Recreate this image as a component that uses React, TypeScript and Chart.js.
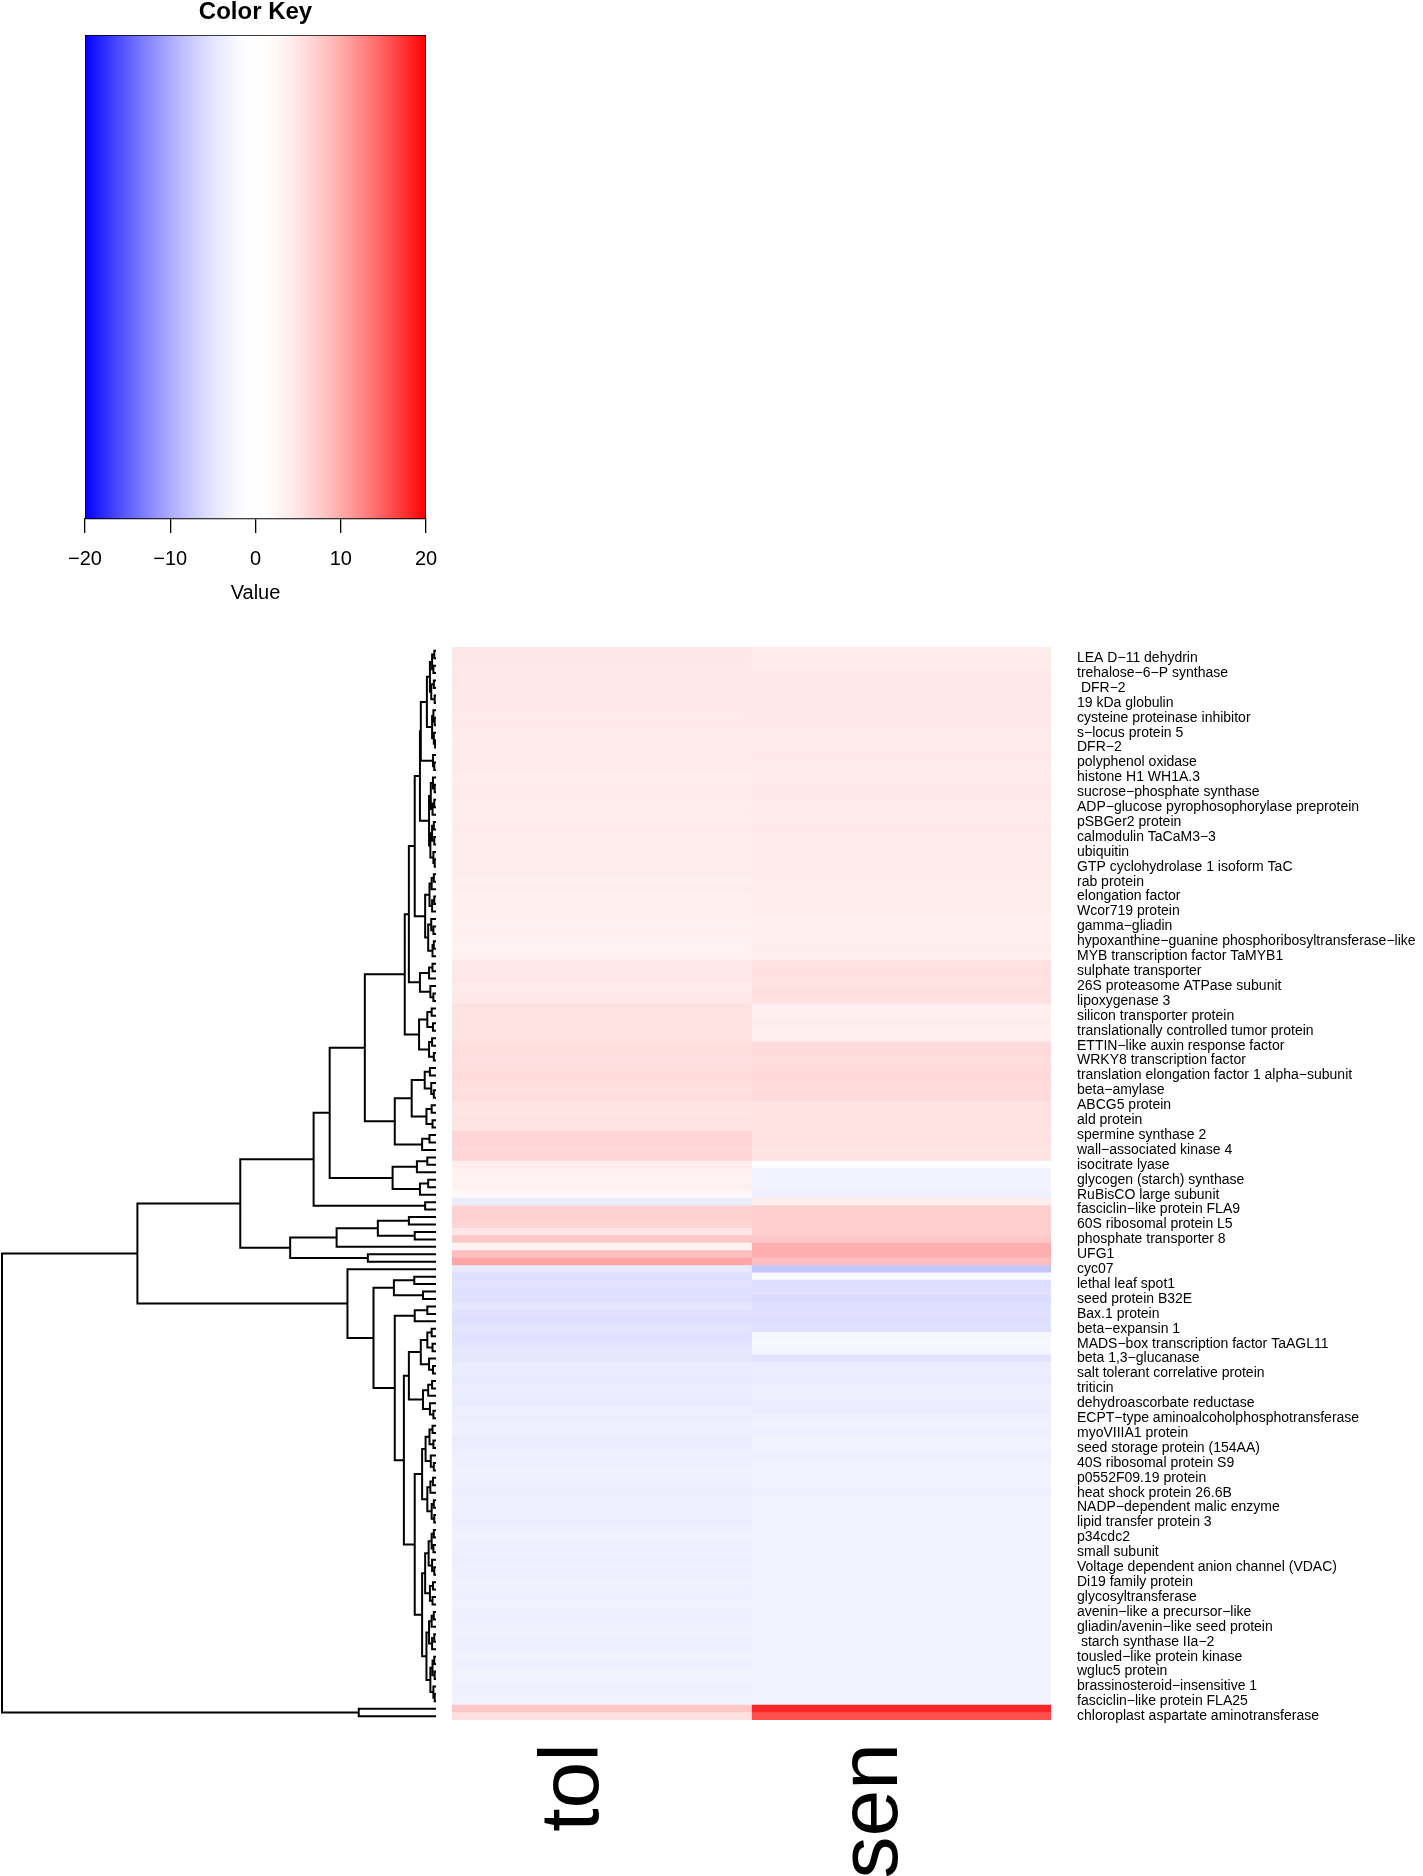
import React, { useEffect, useRef } from "react";
import { Chart, registerables } from "chart.js";
Chart.register(...registerables);

const FONT = "'Liberation Sans', Arial, Helvetica, sans-serif";

const columnLabels = ["tol", "sen"];
const keyTicks = [-20, -10, 0, 10, 20];
const keyMin = -20;
const keyMax = 20;
const keyGamma = 1.6;

const geneLabels = [
  "LEA D−11 dehydrin", "trehalose−6−P synthase", " DFR−2", "19 kDa globulin",
  "cysteine proteinase inhibitor", "s−locus protein 5", "DFR−2", "polyphenol oxidase",
  "histone H1 WH1A.3", "sucrose−phosphate synthase", "ADP−glucose pyrophosophorylase preprotein",
  "pSBGer2 protein", "calmodulin TaCaM3−3", "ubiquitin", "GTP cyclohydrolase 1 isoform TaC",
  "rab protein", "elongation factor", "Wcor719 protein", "gamma−gliadin",
  "hypoxanthine−guanine phosphoribosyltransferase−like", "MYB transcription factor TaMYB1",
  "sulphate transporter", "26S proteasome ATPase subunit", "lipoxygenase 3",
  "silicon transporter protein", "translationally controlled tumor protein",
  "ETTIN−like auxin response factor", "WRKY8 transcription factor",
  "translation elongation factor 1 alpha−subunit", "beta−amylase", "ABCG5 protein", "ald protein",
  "spermine synthase 2", "wall−associated kinase 4", "isocitrate lyase", "glycogen (starch) synthase",
  "RuBisCO large subunit", "fasciclin−like protein FLA9", "60S ribosomal protein L5",
  "phosphate transporter 8", "UFG1", "cyc07", "lethal leaf spot1", "seed protein B32E",
  "Bax.1 protein", "beta−expansin 1", "MADS−box transcription factor TaAGL11", "beta 1,3−glucanase",
  "salt tolerant correlative protein", "triticin", "dehydroascorbate reductase",
  "ECPT−type aminoalcoholphosphotransferase", "myoVIIIA1 protein", "seed storage protein (154AA)",
  "40S ribosomal protein S9", "p0552F09.19 protein", "heat shock protein 26.6B",
  "NADP−dependent malic enzyme", "lipid transfer protein 3", "p34cdc2", "small subunit",
  "Voltage dependent anion channel (VDAC)", "Di19 family protein", "glycosyltransferase",
  "avenin−like a precursor−like", "gliadin/avenin−like seed protein", " starch synthase IIa−2",
  "tousled−like protein kinase", "wgluc5 protein", "brassinosteroid−insensitive 1",
  "fasciclin−like protein FLA25", "chloroplast aspartate aminotransferase",
];

// 144 rows, top to bottom
const tolValues = [
  4.6, 4.6, 4.4, 4.4, 4.6, 4.4, 4.3, 4.4, 4.4, 4.3,
  4.4, 4.3, 4.1, 4.3, 4.3, 4.1, 4.3, 4.0, 4.1, 4.3,
  4.1, 4.0, 4.1, 4.0, 4.1, 4.0, 3.8, 4.0, 4.0, 3.8,
  3.8, 3.6, 3.8, 3.6, 3.5, 3.6, 3.5, 3.3, 3.5, 3.3,
  3.1, 3.3, 4.4, 4.3, 4.6, 4.1, 4.3, 4.4, 5.2, 5.0,
  5.3, 5.2, 5.0, 5.6, 5.7, 5.5, 5.6, 5.9, 5.6, 5.5,
  5.7, 4.9, 4.7, 5.0, 4.9, 6.4, 6.6, 6.2, 6.5, 4.0,
  3.1, 2.9, 3.3, 2.2, -4.0, 6.7, 6.9, 6.6, 4.7, 7.7,
  3.1, 8.5, 10.5, -4.4, -5.5, -5.0, -5.5, -5.2, -4.7, -5.3,
  -5.6, -4.9, -5.2, -5.0, -4.6, -4.7, -4.1, -4.0, -4.3, -3.8,
  -4.0, -4.1, -3.6, -3.8, -3.5, -3.6, -4.0, -3.8, -3.5, -3.6,
  -3.3, -3.6, -3.5, -3.8, -3.6, -3.5, -3.6, -3.8, -3.5, -3.3,
  -3.6, -3.5, -3.8, -3.6, -3.5, -3.3, -3.6, -3.5, -3.3, -3.5,
  -3.6, -3.5, -3.3, -3.5, -3.6, -3.3, -3.5, -3.1, -3.3, -3.5,
  -3.3, -3.1, 7.7, 5.3,
];

const senValues = [
  4.0, 4.1, 4.1, 4.4, 4.3, 4.4, 4.6, 4.4, 4.3, 4.4,
  4.4, 4.3, 4.3, 4.1, 4.4, 4.3, 4.3, 4.1, 4.3, 4.4,
  4.3, 4.3, 4.1, 4.3, 4.4, 4.3, 4.1, 4.3, 4.3, 4.1,
  4.1, 4.0, 4.0, 3.8, 4.0, 3.8, 3.6, 3.6, 3.5, 3.6,
  3.8, 3.6, 5.3, 5.5, 5.2, 5.3, 5.6, 5.2, 3.6, 3.5,
  3.8, 3.6, 3.5, 5.9, 6.0, 5.7, 5.9, 6.1, 5.9, 5.7,
  6.0, 5.3, 5.2, 5.3, 5.2, 5.0, 5.2, 4.9, 5.0, 0.0,
  -3.1, -3.3, -2.9, -3.6, 4.0, 7.1, 7.2, 7.0, 7.1, 7.7,
  9.7, 9.7, 8.5, -7.9, -2.2, -5.6, -5.3, -5.9, -5.5, -5.2,
  -5.6, -5.3, -2.4, -2.2, -2.7, -5.0, -4.0, -3.8, -4.1, -3.6,
  -3.5, -3.8, -4.0, -3.6, -3.3, -3.5, -3.1, -3.3, -3.6, -3.1,
  -2.9, -3.3, -3.1, -3.5, -3.3, -2.9, -3.1, -3.3, -3.1, -2.9,
  -3.1, -3.3, -2.9, -3.1, -3.3, -3.1, -2.9, -3.1, -3.3, -3.1,
  -2.9, -3.1, -3.3, -3.1, -2.9, -3.1, -3.3, -3.1, -2.9, -3.1,
  -3.1, -2.9, 18.1, 15.8,
];

// Row dendrogram: [mergeHeight, left, right]; a bare number is a leaf (row index)
const upperBranch = [6.25,
  [4.9,
    [3.7,
      [3.5,
        [2.1,
          [1.4, [0.9, [0.4, 0, 1], [0.6, 2, 3]], [1.1, [0.5, 4, 5], [0.3, 6, 7]]],
          [0.9, [0.6, 8, [0.3, 9, 10]], [0.5, 11, [0.2, 12, 13]]]],
        [0.7, 14, [0.4, 15, 16]]],
      [1.6, [1.2, [0.7, 17, [0.3, 18, 19]], [0.8, [0.4, 20, 21], 22]],
        [1.3, [0.9, [0.5, 23, 24], [0.4, 25, 26]], [0.6, 27, [0.3, 28, 29]]]]],
    [2.5, [1.5, [1.0, [0.5, 30, 31], 32], [0.9, [0.4, 33, 34], 35]],
      [1.8, [1.1, 36, [0.6, 37, 38]], [0.8, [0.5, 39, 40], 41]]]],
  [3.7, [1.6, [0.8, 42, 43], 44], [1.3, 45, [0.6, 46, 47]]]];

const branchC1 = [16.4,
  [7.2, upperBranch, [3.9, [2.0, [1.0, 48, 49], [0.7, 50, 51]], [1.6, [0.9, 52, 53], [0.5, 54, 55]]]],
  [9.5, [5.6, [2.6, [1.4, 56, 57], [1.1, 58, [0.5, 59, 60]]], [2.2, [1.0, 61, 62], [0.8, 63, 64]]],
    [3.2, [1.5, 65, 66], 67]]];

const branchA1 = [45.1,
  [28.2,
    [24.5, branchC1, [10.0, [4.4, [2.0, 68, 69], 70], [3.7, [1.8, 71, 72], 73]]],
    [2.5, 74, 75]],
  [33.6, [22.9, [13.4, [6.25, 76, 77], [4.9, 78, 79]], 80], [15.7, 81, 82]]];

const branchLow1 = [6.25,
  [3.5, [2.0, [1.0, 91, 92], [0.8, 93, 94]], [1.6, 95, [0.7, 96, 97]]],
  [3.0, [1.8, [0.9, 98, 99], 100], [1.4, 101, [0.6, 102, 103]]]];

const branchLow2 = [3.2,
  [2.4, [1.5, [0.8, 104, 105], [0.6, 106, 107]], [1.2, 108, [0.5, 109, 110]]],
  [2.0, [1.3, [0.7, 111, 112], 113], [1.0, [0.5, 114, 115], [0.4, 116, 117]]]];

const branchLow3 = [3.2,
  [2.5, [1.7, [1.0, [0.5, 118, 119], [0.6, 120, 121]], [0.9, 122, [0.4, 123, 124]]],
    [1.4, [0.7, 125, 126], [0.8, 127, 128]]],
  [2.2, [1.6, [1.0, [0.5, 129, 130], 131], [0.9, [0.4, 132, 133], 134]],
    [1.3, [0.8, [0.4, 135, 136], [0.3, 137, 138]], [0.6, 139, [0.3, 140, 141]]]]];

const branchA2 = [20.4, 83,
  [14.4, [9.7, [5.0, 84, 85], [3.0, 86, 87]],
    [9.5, [4.9, [2.0, 88, 89], 90], [7.4, branchLow1, [4.9, branchLow2, branchLow3]]]]];

const rowDendrogram = [100, [68.8, branchA1, branchA2], [17.8, 142, 143]];

function valueColor(v: number): string {
  const c = Math.max(keyMin, Math.min(keyMax, v));
  const t = Math.pow(Math.abs(c) / keyMax, keyGamma);
  const g = Math.round(255 * (1 - t));
  return c < 0 ? `rgb(${g},${g},255)` : `rgb(255,${g},${g})`;
}

function buildSegments(node: any, out: any[]): { h: number; y: number } {
  if (typeof node === "number") return { h: 0, y: node };
  const [h, a, b] = node;
  const A = buildSegments(a, out);
  const B = buildSegments(b, out);
  out.push({ x: A.h, y: A.y }, { x: h, y: A.y }, { x: h, y: B.y }, { x: B.h, y: B.y }, { x: h, y: null });
  return { h, y: (A.y + B.y) / 2 };
}

const fmtTick = (v: number) => (v < 0 ? "\u2212" + Math.abs(v) : String(v));

export default function App() {
  const keyRef = useRef<HTMLCanvasElement>(null);
  const dendRef = useRef<HTMLCanvasElement>(null);
  const heatRef = useRef<HTMLCanvasElement>(null);

  useEffect(() => {
    Chart.defaults.font.family = FONT;
    Chart.defaults.color = "#000";
    const charts: Chart[] = [];

    // Color key
    charts.push(
      new Chart(keyRef.current!, {
        type: "bar",
        data: {
          labels: ["key"],
          datasets: [
            {
              data: [[keyMin, keyMax]] as any,
              backgroundColor: (ctx: any) => {
                const chart = ctx.chart;
                const area = chart.chartArea;
                if (!area) return "#fff";
                const xs = chart.scales.x;
                const g = chart.ctx.createLinearGradient(area.left, 0, area.right, 0);
                for (let v = keyMin; v <= keyMax; v += 0.5) {
                  const p = (xs.getPixelForValue(v) - area.left) / (area.right - area.left);
                  g.addColorStop(Math.max(0, Math.min(1, p)), valueColor(v));
                }
                return g;
              },
              borderColor: "#000",
              borderWidth: 1.2,
              borderSkipped: false,
              barPercentage: 1,
              categoryPercentage: 1,
            } as any,
          ],
        },
        options: {
          indexAxis: "y",
          responsive: false,
          animation: false,
          layout: { padding: { left: 85, right: 85, top: 0, bottom: 0 } },
          plugins: {
            legend: { display: false },
            tooltip: { enabled: false },
            title: {
              display: true,
              text: "Color Key",
              color: "#000",
              font: { size: 24, weight: "bold", family: FONT, lineHeight: 1 },
              padding: { top: 0, bottom: 11 },
            },
          },
          scales: {
            y: { display: false },
            x: {
              type: "linear",
              min: keyMin,
              max: keyMax,
              afterBuildTicks: (s: any) => {
                s.ticks = keyTicks.map((v) => ({ value: v }));
              },
              grid: { drawOnChartArea: false, drawTicks: true, tickLength: 14, color: "#000", lineWidth: 1.3 },
              border: { display: true, color: "#000", width: 1.2 },
              ticks: {
                font: { size: 20, family: FONT },
                color: "#000",
                padding: 14,
                maxRotation: 0,
                autoSkip: false,
                callback: (v: any) => fmtTick(Number(v)),
              },
              title: {
                display: true,
                text: "Value",
                color: "#000",
                font: { size: 20, family: FONT },
                padding: { top: 0, bottom: 4 },
              },
              afterFit: (s: any) => {
                s.height = 90;
                s.paddingLeft = 0;
                s.paddingRight = 0;
              },
            } as any,
          },
        },
      })
    );

    // Row dendrogram
    const segs: any[] = [];
    buildSegments(rowDendrogram, segs);
    charts.push(
      new Chart(dendRef.current!, {
        type: "scatter",
        data: {
          datasets: [
            {
              data: segs,
              showLine: true,
              borderColor: "#000",
              borderWidth: 2,
              pointRadius: 0,
              spanGaps: false,
              tension: 0,
              clip: false,
            } as any,
          ],
        },
        options: {
          responsive: false,
          animation: false,
          layout: { padding: 0 },
          plugins: { legend: { display: false }, tooltip: { enabled: false } },
          scales: {
            x: { type: "linear", min: 0, max: 100.46, reverse: true, display: false },
            y: { type: "linear", min: -0.5, max: tolValues.length - 0.5, reverse: true, display: false },
          },
        },
      })
    );

    // Heatmap
    const rows = tolValues.map((_, i) => String(i));
    charts.push(
      new Chart(heatRef.current!, {
        type: "bar",
        data: {
          labels: rows,
          datasets: [
            {
              label: columnLabels[0],
              data: rows.map(() => [0, 1]) as any,
              backgroundColor: tolValues.map(valueColor),
              borderWidth: 0,
              grouped: false,
              barPercentage: 1,
              categoryPercentage: 1,
            } as any,
            {
              label: columnLabels[1],
              data: rows.map(() => [1, 2]) as any,
              backgroundColor: senValues.map(valueColor),
              borderWidth: 0,
              grouped: false,
              barPercentage: 1,
              categoryPercentage: 1,
            } as any,
          ],
        },
        options: {
          indexAxis: "y",
          responsive: false,
          animation: false,
          layout: { padding: 0 },
          plugins: { legend: { display: false }, tooltip: { enabled: false } },
          scales: {
            x: { type: "linear", min: 0, max: 2, display: false },
            xcat: {
              type: "category",
              labels: columnLabels,
              position: "bottom",
              offset: true,
              grid: { display: false, drawTicks: false },
              border: { display: false },
              ticks: {
                font: { size: 84, family: FONT },
                color: "#000",
                minRotation: 90,
                maxRotation: 90,
                padding: 23,
                labelOffset: -27,
                autoSkip: false,
              },
              afterFit: (s: any) => {
                s.height = 156;
                s.paddingLeft = 0;
                s.paddingRight = 0;
              },
            } as any,
            y: {
              type: "category",
              position: "right",
              offset: true,
              grid: { display: false, drawTicks: false },
              border: { display: false },
              ticks: {
                autoSkip: false,
                font: { size: 14, family: FONT },
                color: "#000",
                padding: 26,
                callback: (_v: any, i: number) => (i % 2 === 1 ? geneLabels[(i - 1) / 2] : ""),
              },
              afterFit: (s: any) => {
                s.width = 372;
                s.paddingTop = 0;
                s.paddingBottom = 0;
              },
            } as any,
          },
        },
      })
    );

    return () => charts.forEach((c) => c.destroy());
  }, []);

  return (
    <div style={{ position: "absolute", left: 0, top: 0, width: 1423, height: 1876, background: "#fff", overflow: "hidden" }}>
      <canvas ref={keyRef} width={511} height={609} style={{ position: "absolute", left: 0, top: 0 }} />
      <canvas ref={dendRef} width={436} height={1073} style={{ position: "absolute", left: 0, top: 647 }} />
      <canvas ref={heatRef} width={971} height={1229} style={{ position: "absolute", left: 452, top: 647 }} />
    </div>
  );
}
